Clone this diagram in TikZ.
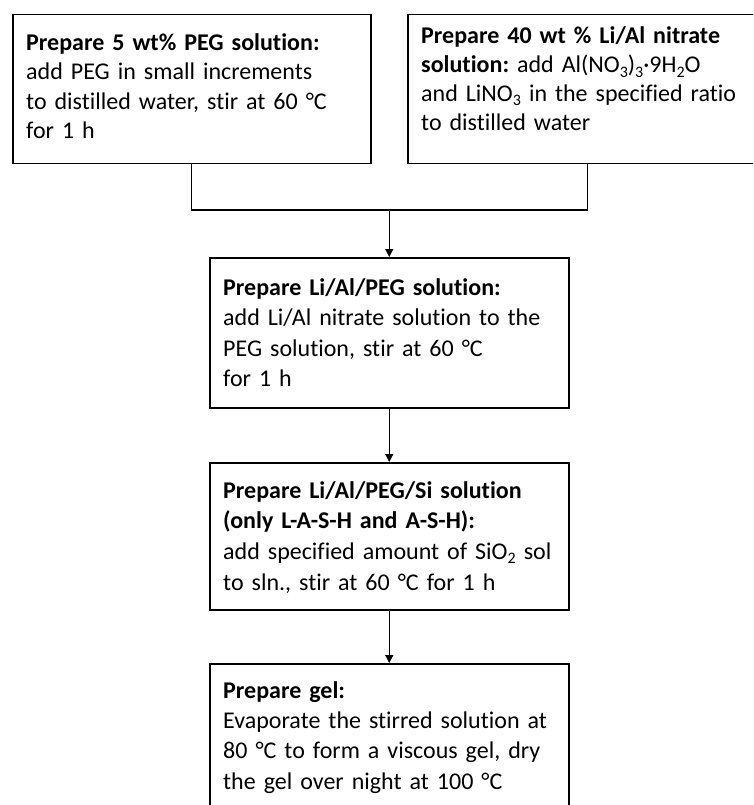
\documentclass[tikz,border=0pt]{standalone}
\usepackage{fontspec}
\setmainfont[Ligatures={NoCommon}]{Carlito}
\usetikzlibrary{arrows.meta}
\newcommand\mysub[1]{\raisebox{-4.5pt}{\fontsize{16}{16}\selectfont #1}}
\begin{document}
\begin{tikzpicture}[x=1pt,y=-1pt,
  box/.style={draw, line width=1.5pt, rectangle, anchor=north west, inner sep=0pt},
  txt/.style={anchor=base west, align=left, inner sep=0pt, text width=350pt,
    font=\fontsize{24}{29.5}\selectfont\frenchspacing},
  link/.style={line width=1.2pt},
  arr/.style={line width=1.2pt, -{Triangle[width=8pt,length=8pt]}}]
\clip (0,0) rectangle (753,805);
\fill[white] (0,0) rectangle (753,805);
% boxes
\node[box, minimum width=358pt, minimum height=149pt] (b1) at (12,14) {};
\node[box, minimum width=360pt, minimum height=149pt] (bR) at (407,14) {};
\node[box, minimum width=359pt, minimum height=150pt] (b2) at (209,257) {};
\node[box, minimum width=359pt, minimum height=147pt] (b3) at (209,462) {};
\node[box, minimum width=359pt, minimum height=170pt] (b4) at (209,663) {};
% texts
\node[txt] (t1) at (26,50.5) {\textbf{Prepare 5 wt\% PEG solution:}\\
add PEG in small increments\\
to distilled water, stir at 60 °C\\
for 1 h};
\node[txt, font=\fontsize{24}{28.7}\selectfont\frenchspacing] (tR) at (421,44) {\textbf{Prepare 40 wt \% Li/Al nitrate}\\
\textbf{solution:} add Al(NO\mysub{3})\mysub{3}·9H\mysub{2}O\\
and LiNO\mysub{3} in the specified ratio\\
to distilled water};
\node[txt, font=\fontsize{24}{30.5}\selectfont\frenchspacing] (t2) at (223,295) {\textbf{Prepare Li/Al/PEG solution:}\\
add Li/Al nitrate solution to the\\
PEG solution, stir at 60 °C\\
for 1 h};
\node[txt, font=\fontsize{24}{30.7}\selectfont\frenchspacing] (t3) at (223,498) {\textbf{Prepare Li/Al/PEG/Si solution}\\
\textbf{(only L-A-S-H and A-S-H):}\\
add specified amount of SiO\mysub{2} sol\\
to sln., stir at 60 °C for 1 h};
\node[txt, font=\fontsize{24}{30.4}\selectfont\frenchspacing] (t4) at (223,698) {\textbf{Prepare gel:}\\
Evaporate the stirred solution at\\
80 °C to form a viscous gel, dry\\
the gel over night at 100 °C};
% connectors
\coordinate (j) at (b2.north |- 0,210);
\draw[link] (b1.south) |- (j);
\draw[link] (bR.south) |- (j);
\draw[arr] (j) -- (b2.north);
\draw[arr] (b2.south) -- (b3.north);
\draw[arr] (b3.south) -- (b4.north);
\end{tikzpicture}
\end{document}
